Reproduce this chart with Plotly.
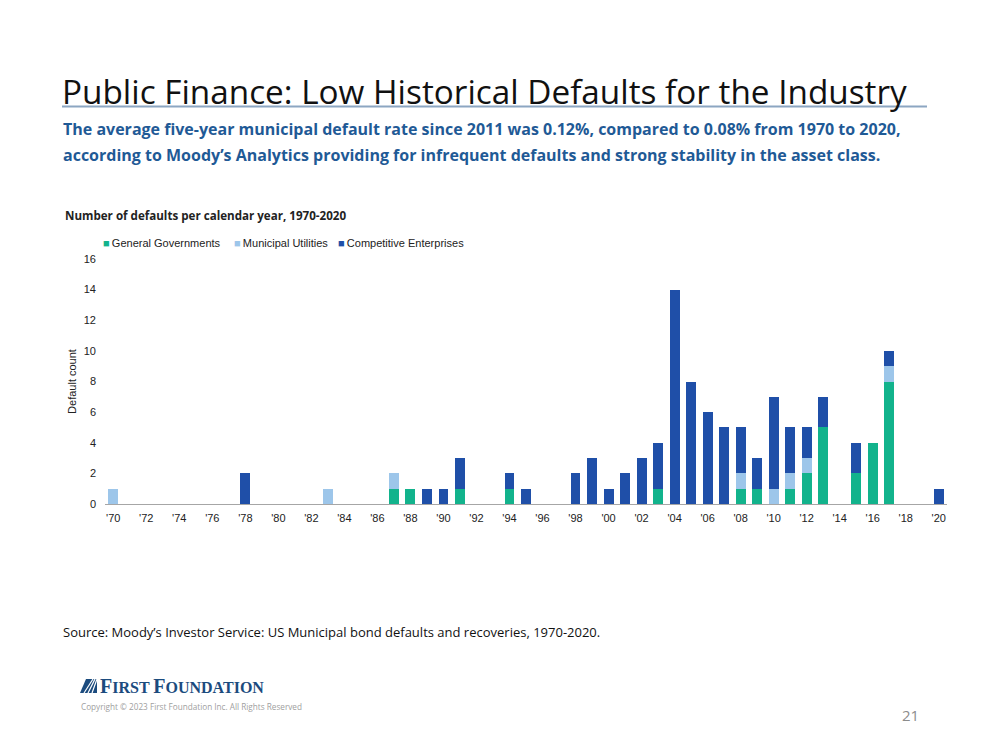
import plotly.graph_objects as go

W, H = 999, 750
OX, OY = 8, 8  # page body offset

years = list(range(1970, 2021))
general_governments = {1987: 1, 1988: 1, 1991: 1, 1994: 1, 2003: 1, 2008: 1, 2009: 1,
                       2011: 1, 2012: 2, 2013: 5, 2015: 2, 2016: 4, 2017: 8}
municipal_utilities = {1970: 1, 1983: 1, 1987: 1, 2008: 1, 2010: 1, 2011: 1, 2012: 1, 2017: 1}
competitive_enterprises = {1978: 2, 1989: 1, 1990: 1, 1991: 2, 1994: 1, 1995: 1, 1998: 2,
                           1999: 3, 2000: 1, 2001: 2, 2002: 3, 2003: 3, 2004: 14, 2005: 8,
                           2006: 6, 2007: 5, 2008: 3, 2009: 2, 2010: 6, 2011: 3, 2012: 2,
                           2013: 2, 2015: 2, 2017: 1, 2020: 1}
tick_years = list(range(1970, 2021, 2))
tick_labels = ["'" + str(y)[2:] for y in tick_years]
y_ticks = [0, 2, 4, 6, 8, 10, 12, 14, 16]

series = [
    ("General Governments", general_governments, "#12B38C"),
    ("Municipal Utilities", municipal_utilities, "#9DC6EA"),
    ("Competitive Enterprises", competitive_enterprises, "#1F4FA8"),
]
legend_x = [101, 232, 336]


def px(x):
    return (x - OX) / W


def py(y):
    return 1 - (y - OY) / H


fig = go.Figure()
for name, d, color in series:
    fig.add_trace(go.Bar(
        x=years, y=[d.get(y, 0) for y in years], name=name,
        marker=dict(color=color, line=dict(width=0)),
    ))

fig.update_layout(
    width=W, height=H, barmode="stack", bargap=0.4,
    margin=dict(l=0, r=0, t=0, b=0, autoexpand=False),
    paper_bgcolor="white", plot_bgcolor="white",
    font=dict(family="Liberation Sans, Arial", color="#333333", size=11),
    showlegend=False,
    xaxis=dict(domain=[px(105), px(947)], range=[1969.5, 2020.5],
               tickmode="array", tickvals=tick_years, ticktext=tick_labels,
               showgrid=False, showline=True, linecolor="#a6a6a6", linewidth=1,
               ticks="", tickfont=dict(size=11, color="#222222"), zeroline=False,
               ticklabelstandoff=4, automargin=False),
    yaxis=dict(domain=[py(504), py(259)], range=[0, 16],
               tickmode="array", tickvals=y_ticks, showgrid=False, zeroline=False,
               showline=False, ticks="", tickfont=dict(size=11, color="#222222"),
               ticklabelstandoff=8, automargin=False,
               title=dict(text="Default count", font=dict(size=11, color="#222222"),
                          standoff=4)),
)

# legend (drawn as text with coloured square markers)
for (name, _, color), lx in zip(series, legend_x):
    fig.add_annotation(x=px(lx), y=py(243), xref="paper", yref="paper", xanchor="left",
                       yanchor="middle", showarrow=False,
                       text=f"<span style='color:{color}'>\u25a0</span>\u2009{name}",
                       font=dict(family="Liberation Sans, Arial", size=11, color="#222222"))

# slide header
fig.add_annotation(x=px(60), y=py(91), xref="paper", yref="paper", xanchor="left",
                   yanchor="middle", showarrow=False,
                   text="Public Finance: Low Historical Defaults for the Industry",
                   font=dict(family="Open Sans", size=33.3, color="#111111"))
fig.add_shape(type="line", xref="paper", yref="paper", x0=px(62), x1=px(927),
              y0=py(106.5), y1=py(106.5), line=dict(color="#8CA6C2", width=2))
fig.add_annotation(x=px(61), y=py(129), xref="paper", yref="paper", xanchor="left",
                   yanchor="middle", showarrow=False,
                   text="<b>The average five-year municipal default rate since 2011 was 0.12%, compared to 0.08% from 1970 to 2020,</b>",
                   font=dict(family="Open Sans", size=16, color="#1F5A96"))
fig.add_annotation(x=px(61), y=py(155), xref="paper", yref="paper", xanchor="left",
                   yanchor="middle", showarrow=False,
                   text="<b>according to Moody\u2019s Analytics providing for infrequent defaults and strong stability in the asset class.</b>",
                   font=dict(family="Open Sans", size=16, color="#1F5A96"))

# chart title
fig.add_annotation(x=px(63), y=py(215), xref="paper", yref="paper", xanchor="left",
                   yanchor="middle", showarrow=False,
                   text="<b>Number of defaults per calendar year, 1970-2020</b>",
                   font=dict(family="Open Sans", size=11.6, color="#222222"))

# source
fig.add_annotation(x=px(61), y=py(632), xref="paper", yref="paper", xanchor="left",
                   yanchor="middle", showarrow=False,
                   text="Source: Moody\u2019s Investor Service: US Municipal bond defaults and recoveries, 1970-2020.",
                   font=dict(family="Open Sans", size=13, color="#111111"))

# logo
fig.add_shape(type="path", xref="paper", yref="paper",
              path=f"M {px(80)} {py(693)} L {px(97)} {py(693)} L {px(97)} {py(679)} L {px(86)} {py(679)} Z",
              fillcolor="#1B4B7E", line=dict(width=0))
for k in range(3):
    fig.add_shape(type="line", xref="paper", yref="paper",
                  x0=px(84 + 4 * k), y0=py(693), x1=px(93 + 2 * k), y1=py(679),
                  line=dict(color="white", width=1.2))
fig.add_annotation(x=px(98), y=py(686), xref="paper", yref="paper", xanchor="left",
                   yanchor="middle", showarrow=False,
                   text="<b><span style='font-size:20px'>F</span>IRST <span style='font-size:20px'>F</span>OUNDATION</b>",
                   font=dict(family="Liberation Serif", size=16, color="#1B4B7E"))
fig.add_annotation(x=px(79), y=py(706), xref="paper", yref="paper", xanchor="left",
                   yanchor="middle", showarrow=False,
                   text="Copyright \u00a9 2023 First Foundation Inc. All Rights Reserved",
                   font=dict(family="Open Sans", size=8.2, color="#a0a0a0"))
fig.add_annotation(x=px(910), y=py(715), xref="paper", yref="paper", xanchor="center",
                   yanchor="middle", showarrow=False, text="21",
                   font=dict(family="Open Sans", size=15, color="#8c8c8c"))

fig.write_html("out.html")
